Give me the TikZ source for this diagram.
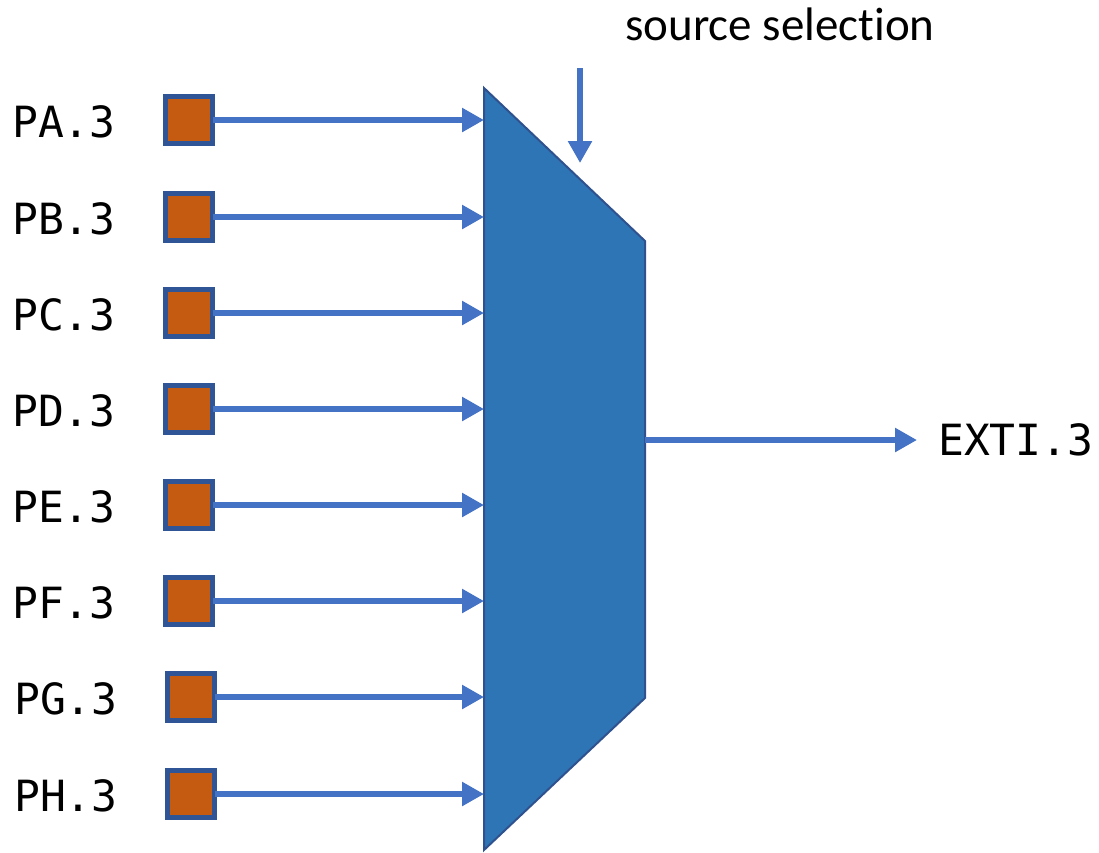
\documentclass[tikz,border=0pt]{standalone}
\usepackage{fontspec}
\setmainfont{Carlito}[Ligatures=NoCommon]
\newfontfamily\monof{DejaVu Sans Mono}
\usetikzlibrary{arrows.meta}
\definecolor{arrowblue}{HTML}{4472C4}
\definecolor{muxfill}{HTML}{2E75B6}
\definecolor{muxedge}{HTML}{2F528F}
\definecolor{padfill}{HTML}{C55A11}
\definecolor{padedge}{HTML}{2F5597}
\tikzset{
  pad/.style={draw=padedge, line width=5pt, fill=padfill, minimum size=47pt, inner sep=0pt, outer sep=0pt},
  portlabel/.style={font=\monof\fontsize{43}{43}\selectfont, inner sep=0pt, anchor=base west},
  sig/.style={draw=arrowblue, line width=5.5pt, -{Triangle[length=22pt,width=23pt]}},
}
\begin{document}
\begin{tikzpicture}[x=1pt,y=-1pt]
\useasboundingbox (0,0) rectangle (1099,852);
% multiplexer
\coordinate (m1) at (484,88);
\coordinate (m2) at (645,241);
\coordinate (m3) at (645,698);
\coordinate (m4) at (484,850);
\draw[fill=muxfill, draw=muxedge, line width=2pt, line join=miter] (m1) -- (m2) -- (m3) -- (m4) -- cycle;
% inputs
\foreach \n/\lab/\y/\dx in {1/PA.3/120/0, 2/PB.3/217/0, 3/PC.3/313/0, 4/PD.3/409/0, 5/PE.3/505/0, 6/PF.3/601/0, 7/PG.3/697/2, 8/PH.3/794/2}{
  \node[portlabel] (l\n) at (12+\dx,\y+17) {\lab};
  \node[pad] (p\n) at (189+\dx,\y) {};
  \coordinate (i\n) at (484,\y);
  \draw[sig] (p\n.east) -- (i\n);
}
% selection
\node[font=\fontsize{47}{47}\selectfont, inner sep=0pt, anchor=base] (sel) at (780,40) {source selection};
\coordinate (s0) at (580,68);
\coordinate (s1) at (580,163);
\draw[sig] (s0) -- (s1);
% output
\coordinate (o0) at (645,440);
\node[portlabel, anchor=west, inner sep=0pt, inner xsep=21pt] (out) at (917,440) {EXTI.3};
\draw[sig] (o0) -- (out.west);
\end{tikzpicture}
\end{document}
